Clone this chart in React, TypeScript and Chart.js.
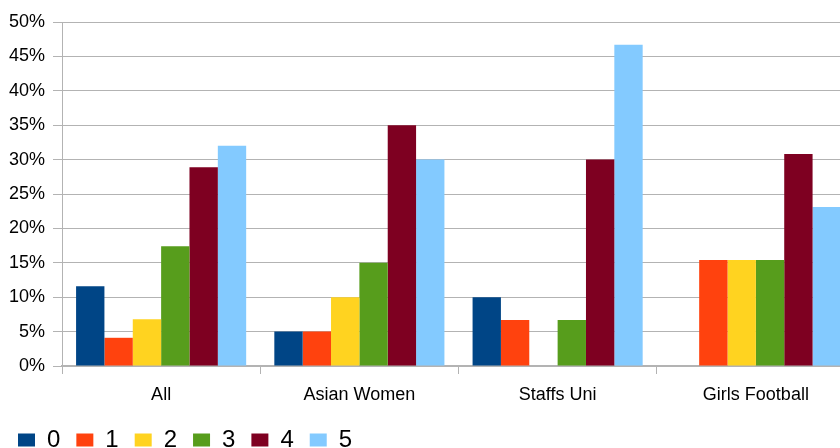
import { useEffect, useRef } from "react";
import { Chart, registerables } from "chart.js";

Chart.register(...registerables);

// Share of responses per score (percent) in each group
const categories = ["All", "Asian Women", "Staffs Uni", "Girls Football"];
const seriesLabels = ["0", "1", "2", "3", "4", "5"];
const score0 = [11.6, 5, 10, 0];
const score1 = [4.1, 5, 6.7, 15.4];
const score2 = [6.8, 10, 0, 15.4];
const score3 = [17.4, 15, 6.7, 15.4];
const score4 = [28.9, 35, 30, 30.8];
const score5 = [32.0, 30, 46.7, 23.1];
const seriesColors = ["#004586", "#ff420e", "#ffd320", "#579d1c", "#7e0021", "#83caff"];
const yMax = 50;
const yStep = 5;

const FONT = "'Liberation Sans', Arial, sans-serif";
const GRID = "#b3b3b3";

export default function App() {
  const canvasRef = useRef<HTMLCanvasElement | null>(null);

  useEffect(() => {
    if (!canvasRef.current) return;
    const series = [score0, score1, score2, score3, score4, score5];
    const chart = new Chart(canvasRef.current, {
      type: "bar",
      data: {
        labels: categories,
        datasets: series.map((values, i) => ({
          label: seriesLabels[i],
          data: values,
          backgroundColor: seriesColors[i],
          borderWidth: 0,
          categoryPercentage: 0.858,
          barPercentage: 1.0,
        })),
      },
      options: {
        animation: false,
        responsive: true,
        maintainAspectRatio: false,
        layout: { padding: { top: 22, left: 2, right: 1, bottom: 0 } },
        plugins: {
          tooltip: { enabled: false },
          legend: {
            position: "bottom",
            align: "start",
            labels: {
              boxWidth: 17,
              boxHeight: 13,
              padding: 16,
              color: "#000",
              font: { family: FONT, size: 24 },
            },
          },
        },
        scales: {
          x: {
            grid: {
              offset: true,
              drawOnChartArea: false,
              drawTicks: true,
              tickLength: 8,
              color: GRID,
            },
            border: { color: GRID, width: 1.5 },
            ticks: {
              color: "#000",
              padding: 10,
              font: { family: FONT, size: 18 },
            },
            afterFit: (scale: any) => {
              scale.height = 46;
            },
          },
          y: {
            min: 0,
            max: yMax,
            grid: { color: GRID, tickLength: 9 },
            border: { color: GRID },
            ticks: {
              stepSize: yStep,
              color: "#000",
              padding: 8,
              font: { family: FONT, size: 18 },
              callback: (v: any) => `${v}%`,
            },
            afterFit: (scale: any) => {
              scale.width = 60;
            },
          },
        },
      },
    });
    return () => chart.destroy();
  }, []);

  return (
    <div
      style={{
        position: "fixed",
        left: 0,
        top: 0,
        width: 840,
        height: 448,
        overflow: "hidden",
        background: "#fff",
      }}
    >
      <div style={{ position: "relative", width: 856, height: 462 }}>
        <canvas ref={canvasRef} />
      </div>
    </div>
  );
}
